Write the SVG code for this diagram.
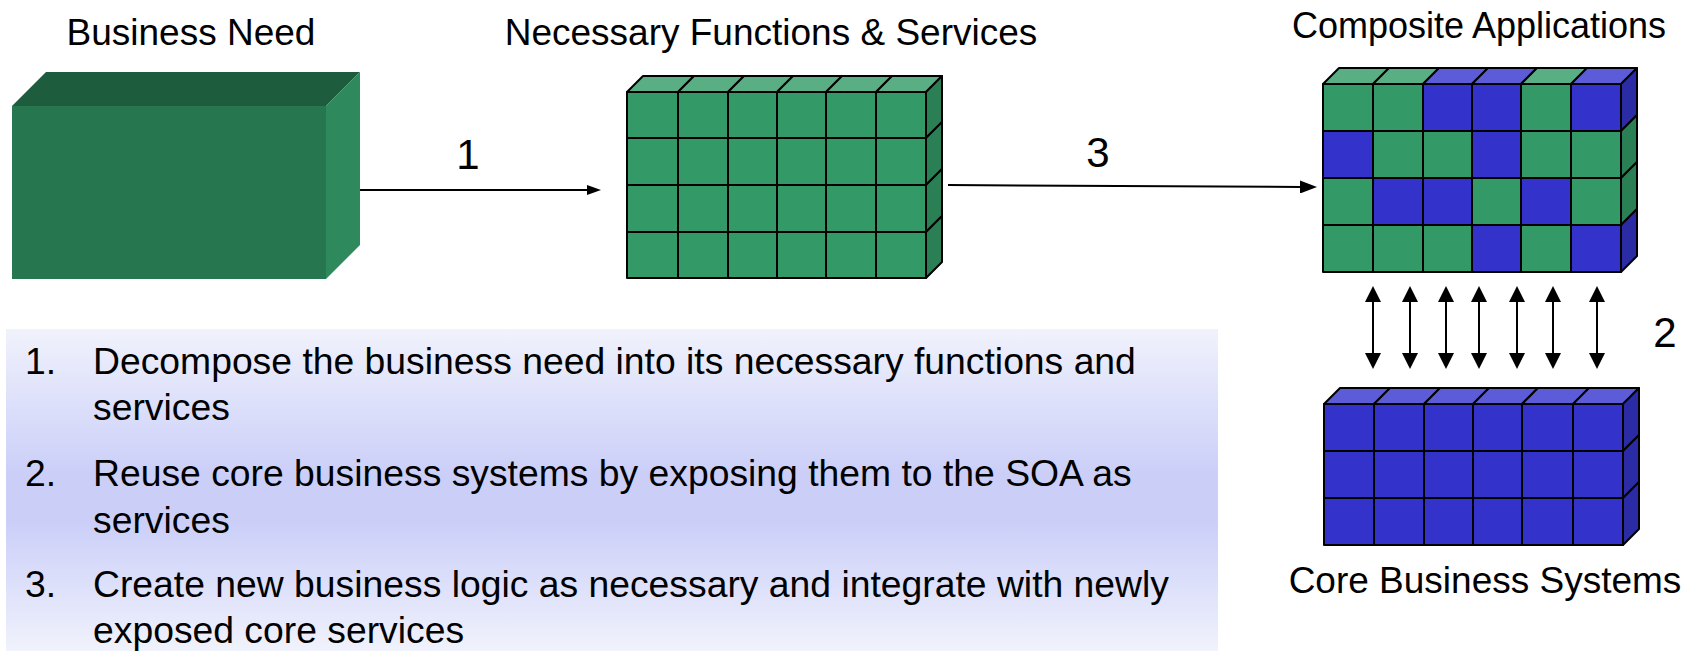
<svg xmlns="http://www.w3.org/2000/svg" width="1694" height="651" viewBox="0 0 1694 651">
  <style>
    text { font-family: "Liberation Sans", Arial, Helvetica, sans-serif; fill: #000; }
    .label { font-size: 37px; text-anchor: middle; }
    .num { font-size: 42px; text-anchor: middle; }
    .body { font-size: 37.3px; }
    .g { fill: #339966; stroke: #000; stroke-width: 2; stroke-linejoin: round; }
    .gt { fill: #5aae84; stroke: #000; stroke-width: 2; stroke-linejoin: round; }
    .gs { fill: #2a7f54; stroke: #000; stroke-width: 2; stroke-linejoin: round; }
    .b { fill: #3333cc; stroke: #000; stroke-width: 2; stroke-linejoin: round; }
    .bt { fill: #5c5cd8; stroke: #000; stroke-width: 2; stroke-linejoin: round; }
    .bs { fill: #2b2ba6; stroke: #000; stroke-width: 2; stroke-linejoin: round; }
    .conn { stroke: #000; stroke-width: 2; fill: none; }
  </style>
  <defs>
    <marker id="head-sm" markerUnits="userSpaceOnUse" markerWidth="14" markerHeight="10" refX="1" refY="5" orient="auto">
      <path d="M0,0 L14,5 L0,10 z" fill="#000"/>
    </marker>
    <marker id="head-lg" markerUnits="userSpaceOnUse" markerWidth="17" markerHeight="13" refX="1" refY="6.5" orient="auto">
      <path d="M0,0 L17,6.5 L0,13 z" fill="#000"/>
    </marker>
    <marker id="head-dbl" markerUnits="userSpaceOnUse" markerWidth="16" markerHeight="16" refX="1" refY="8" orient="auto-start-reverse">
      <path d="M0,0 L16,8 L0,16 z" fill="#000"/>
    </marker>
    <linearGradient id="panel" x1="0" y1="0" x2="0" y2="1">
      <stop offset="0" stop-color="#f0f2fc"/>
      <stop offset="0.45" stop-color="#cbcff8"/>
      <stop offset="0.6" stop-color="#cbcff8"/>
      <stop offset="1" stop-color="#f0f2fc"/>
    </linearGradient>
  </defs>

  <!-- Business need: solid block -->
  <g id="business-need">
    <polygon points="12,106 46,72 360,72 326,106" fill="#1e5c3e"/>
    <polygon points="326,106 360,72 360,245 326,279" fill="#2e8a5c"/>
    <rect x="12" y="106" width="314" height="173" fill="#267650"/>
    <text class="label" x="191" y="45">Business Need</text>
  </g>

  <!-- Necessary functions & services: 6 x 4 green cubes -->
  <g id="necessary-functions">
    <polygon class="gt" points="627,92 643,76 694,76 678,92"/>
    <polygon class="gt" points="678,92 694,76 744,76 728,92"/>
    <polygon class="gt" points="728,92 744,76 793,76 777,92"/>
    <polygon class="gt" points="777,92 793,76 842,76 826,92"/>
    <polygon class="gt" points="826,92 842,76 892,76 876,92"/>
    <polygon class="gt" points="876,92 892,76 942,76 926,92"/>
    <polygon class="gs" points="926,92 942,76 942,122 926,138"/>
    <polygon class="gs" points="926,138 942,122 942,169 926,185"/>
    <polygon class="gs" points="926,185 942,169 942,216 926,232"/>
    <polygon class="gs" points="926,232 942,216 942,262 926,278"/>
    <rect class="g" x="627" y="92" width="51" height="46"/>
    <rect class="g" x="678" y="92" width="50" height="46"/>
    <rect class="g" x="728" y="92" width="49" height="46"/>
    <rect class="g" x="777" y="92" width="49" height="46"/>
    <rect class="g" x="826" y="92" width="50" height="46"/>
    <rect class="g" x="876" y="92" width="50" height="46"/>
    <rect class="g" x="627" y="138" width="51" height="47"/>
    <rect class="g" x="678" y="138" width="50" height="47"/>
    <rect class="g" x="728" y="138" width="49" height="47"/>
    <rect class="g" x="777" y="138" width="49" height="47"/>
    <rect class="g" x="826" y="138" width="50" height="47"/>
    <rect class="g" x="876" y="138" width="50" height="47"/>
    <rect class="g" x="627" y="185" width="51" height="47"/>
    <rect class="g" x="678" y="185" width="50" height="47"/>
    <rect class="g" x="728" y="185" width="49" height="47"/>
    <rect class="g" x="777" y="185" width="49" height="47"/>
    <rect class="g" x="826" y="185" width="50" height="47"/>
    <rect class="g" x="876" y="185" width="50" height="47"/>
    <rect class="g" x="627" y="232" width="51" height="46"/>
    <rect class="g" x="678" y="232" width="50" height="46"/>
    <rect class="g" x="728" y="232" width="49" height="46"/>
    <rect class="g" x="777" y="232" width="49" height="46"/>
    <rect class="g" x="826" y="232" width="50" height="46"/>
    <rect class="g" x="876" y="232" width="50" height="46"/>
    <text class="label" x="771" y="45">Necessary Functions &amp; Services</text>
  </g>

  <!-- Composite applications: mixed green / blue cubes -->
  <g id="composite-applications">
    <polygon class="gt" points="1323,84 1339,68 1389,68 1373,84"/>
    <polygon class="gt" points="1373,84 1389,68 1439,68 1423,84"/>
    <polygon class="bt" points="1423,84 1439,68 1488,68 1472,84"/>
    <polygon class="bt" points="1472,84 1488,68 1537,68 1521,84"/>
    <polygon class="gt" points="1521,84 1537,68 1587,68 1571,84"/>
    <polygon class="bt" points="1571,84 1587,68 1637,68 1621,84"/>
    <polygon class="bs" points="1621,84 1637,68 1637,115 1621,131"/>
    <polygon class="gs" points="1621,131 1637,115 1637,162 1621,178"/>
    <polygon class="gs" points="1621,178 1637,162 1637,209 1621,225"/>
    <polygon class="bs" points="1621,225 1637,209 1637,256 1621,272"/>
    <rect class="g" x="1323" y="84" width="50" height="47"/>
    <rect class="g" x="1373" y="84" width="50" height="47"/>
    <rect class="b" x="1423" y="84" width="49" height="47"/>
    <rect class="b" x="1472" y="84" width="49" height="47"/>
    <rect class="g" x="1521" y="84" width="50" height="47"/>
    <rect class="b" x="1571" y="84" width="50" height="47"/>
    <rect class="b" x="1323" y="131" width="50" height="47"/>
    <rect class="g" x="1373" y="131" width="50" height="47"/>
    <rect class="g" x="1423" y="131" width="49" height="47"/>
    <rect class="b" x="1472" y="131" width="49" height="47"/>
    <rect class="g" x="1521" y="131" width="50" height="47"/>
    <rect class="g" x="1571" y="131" width="50" height="47"/>
    <rect class="g" x="1323" y="178" width="50" height="47"/>
    <rect class="b" x="1373" y="178" width="50" height="47"/>
    <rect class="b" x="1423" y="178" width="49" height="47"/>
    <rect class="g" x="1472" y="178" width="49" height="47"/>
    <rect class="b" x="1521" y="178" width="50" height="47"/>
    <rect class="g" x="1571" y="178" width="50" height="47"/>
    <rect class="g" x="1323" y="225" width="50" height="47"/>
    <rect class="g" x="1373" y="225" width="50" height="47"/>
    <rect class="g" x="1423" y="225" width="49" height="47"/>
    <rect class="b" x="1472" y="225" width="49" height="47"/>
    <rect class="g" x="1521" y="225" width="50" height="47"/>
    <rect class="b" x="1571" y="225" width="50" height="47"/>
    <text class="label" x="1479" y="38" style="font-size:36px">Composite Applications</text>
  </g>

  <!-- Core business systems: blue cubes -->
  <g id="core-business-systems">
    <polygon class="bt" points="1324,404 1340,388 1390,388 1374,404"/>
    <polygon class="bt" points="1374,404 1390,388 1440,388 1424,404"/>
    <polygon class="bt" points="1424,404 1440,388 1489,388 1473,404"/>
    <polygon class="bt" points="1473,404 1489,388 1538,388 1522,404"/>
    <polygon class="bt" points="1522,404 1538,388 1589,388 1573,404"/>
    <polygon class="bt" points="1573,404 1589,388 1639,388 1623,404"/>
    <polygon class="bs" points="1623,404 1639,388 1639,435 1623,451"/>
    <polygon class="bs" points="1623,451 1639,435 1639,482 1623,498"/>
    <polygon class="bs" points="1623,498 1639,482 1639,529 1623,545"/>
    <rect class="b" x="1324" y="404" width="50" height="47"/>
    <rect class="b" x="1374" y="404" width="50" height="47"/>
    <rect class="b" x="1424" y="404" width="49" height="47"/>
    <rect class="b" x="1473" y="404" width="49" height="47"/>
    <rect class="b" x="1522" y="404" width="51" height="47"/>
    <rect class="b" x="1573" y="404" width="50" height="47"/>
    <rect class="b" x="1324" y="451" width="50" height="47"/>
    <rect class="b" x="1374" y="451" width="50" height="47"/>
    <rect class="b" x="1424" y="451" width="49" height="47"/>
    <rect class="b" x="1473" y="451" width="49" height="47"/>
    <rect class="b" x="1522" y="451" width="51" height="47"/>
    <rect class="b" x="1573" y="451" width="50" height="47"/>
    <rect class="b" x="1324" y="498" width="50" height="47"/>
    <rect class="b" x="1374" y="498" width="50" height="47"/>
    <rect class="b" x="1424" y="498" width="49" height="47"/>
    <rect class="b" x="1473" y="498" width="49" height="47"/>
    <rect class="b" x="1522" y="498" width="51" height="47"/>
    <rect class="b" x="1573" y="498" width="50" height="47"/>
    <text class="label" x="1485" y="593">Core Business Systems</text>
  </g>

  <!-- Connectors -->
  <g id="connectors">
    <line class="conn" x1="360" y1="190" x2="588" y2="190" marker-end="url(#head-sm)"/>
    <text class="num" x="468" y="169">1</text>
    <line class="conn" x1="948" y1="185" x2="1301" y2="187" marker-end="url(#head-lg)"/>
    <text class="num" x="1098" y="167">3</text>
    <line class="conn" x1="1373" y1="301" x2="1373" y2="354" marker-start="url(#head-dbl)" marker-end="url(#head-dbl)"/>
    <line class="conn" x1="1410" y1="301" x2="1410" y2="354" marker-start="url(#head-dbl)" marker-end="url(#head-dbl)"/>
    <line class="conn" x1="1446" y1="301" x2="1446" y2="354" marker-start="url(#head-dbl)" marker-end="url(#head-dbl)"/>
    <line class="conn" x1="1479" y1="301" x2="1479" y2="354" marker-start="url(#head-dbl)" marker-end="url(#head-dbl)"/>
    <line class="conn" x1="1517" y1="301" x2="1517" y2="354" marker-start="url(#head-dbl)" marker-end="url(#head-dbl)"/>
    <line class="conn" x1="1553" y1="301" x2="1553" y2="354" marker-start="url(#head-dbl)" marker-end="url(#head-dbl)"/>
    <line class="conn" x1="1597" y1="301" x2="1597" y2="354" marker-start="url(#head-dbl)" marker-end="url(#head-dbl)"/>
    <text class="num" x="1665" y="347">2</text>
  </g>

  <!-- Step list panel -->
  <g id="steps">
    <rect x="6" y="329" width="1212" height="322" fill="url(#panel)"/>
    <text class="body" x="25" y="374">1.</text>
    <text class="body" x="93" y="374">Decompose the business need into its necessary functions and</text>
    <text class="body" x="93" y="420">services</text>
    <text class="body" x="25" y="486">2.</text>
    <text class="body" x="93" y="486">Reuse core business systems by exposing them to the SOA as</text>
    <text class="body" x="93" y="533">services</text>
    <text class="body" x="25" y="597">3.</text>
    <text class="body" x="93" y="597">Create new business logic as necessary and integrate with newly</text>
    <text class="body" x="93" y="643">exposed core services</text>
  </g>
</svg>
